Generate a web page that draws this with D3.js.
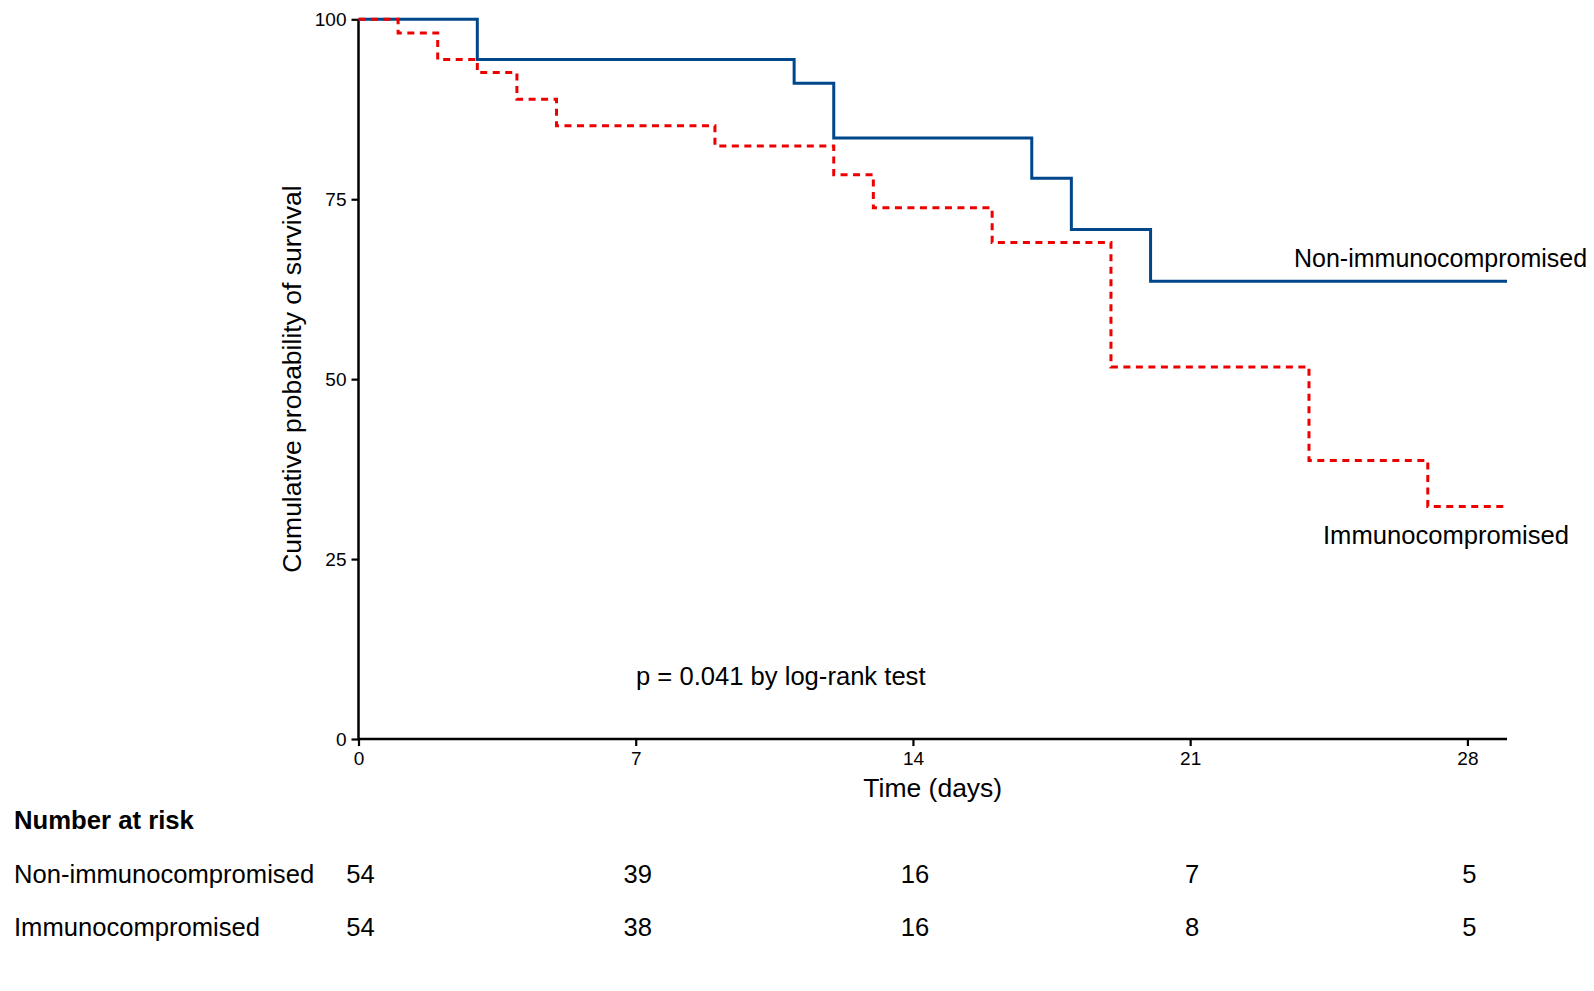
<!DOCTYPE html>
<html>
<head>
<meta charset="utf-8">
<script src="https://cdn.jsdelivr.net/npm/d3@7"></script>
<style>
  body { margin: 0; background: #fff; }
  text { font-family: "Liberation Sans", Arial, sans-serif; fill: #000; }
</style>
</head>
<body>
<div id="root"></div>
<script>
// Kaplan-Meier steps (time in days, survival in %)
const nonImmTimes = [0, 3, 11, 12, 17, 18, 20, 29];
const nonImmSurv = [100, 94.4, 91.1, 83.5, 77.9, 70.8, 63.6, 63.6];
const immTimes = [0, 1, 2, 3, 4, 5, 9, 12, 13, 16, 19, 24, 27, 29];
const immSurv = [100, 98.1, 94.4, 92.6, 88.9, 85.2, 82.4, 78.4, 73.8, 69.0, 51.7, 38.7, 32.3, 32.3];

const groups = ["Non-immunocompromised", "Immunocompromised"];
const xTicks = [0, 7, 14, 21, 28];
const yTicks = [0, 25, 50, 75, 100];
const riskNonImm = [54, 39, 16, 7, 5];
const riskImm = [54, 38, 16, 8, 5];

const width = 1594;
const height = 991;
const margin = { left: 358.5, top: 19.3, right: 87, bottom: 252 };

const svg = d3
  .select("#root")
  .append("svg")
  .attr("width", width)
  .attr("height", height)
  .attr("viewBox", [0, 0, width, height]);

const x = d3
  .scaleLinear()
  .domain([0, 29])
  .range([margin.left, width - margin.right]);

const y = d3
  .scaleLinear()
  .domain([0, 100])
  .range([height - margin.bottom, margin.top]);

// axes
const xAxis = svg
  .append("g")
  .attr("transform", `translate(0, ${y(0)})`)
  .call(d3.axisBottom(x).tickValues(xTicks).tickSizeOuter(0).tickSize(7).tickPadding(6));

const yAxis = svg
  .append("g")
  .attr("transform", `translate(${x(0)}, 0)`)
  .call(d3.axisLeft(y).tickValues(yTicks).tickSizeOuter(0).tickSize(7).tickPadding(5));

[xAxis, yAxis].forEach((ax) => {
  ax.select(".domain").remove();
  ax.selectAll(".tick line").attr("stroke", "#000").attr("stroke-width", 2.2);
  ax.selectAll(".tick text")
    .attr("font-size", 19)
    .attr("font-family", "Liberation Sans, Arial, sans-serif")
    .attr("fill", "#000");
});

// axis lines (plain, no end caps)
svg
  .append("line")
  .attr("x1", x(0))
  .attr("x2", x(29))
  .attr("y1", y(0))
  .attr("y2", y(0))
  .attr("stroke", "#000")
  .attr("stroke-width", 2.5);

svg
  .append("line")
  .attr("x1", x(0))
  .attr("x2", x(0))
  .attr("y1", y(0) + 1.25)
  .attr("y2", y(100))
  .attr("stroke", "#000")
  .attr("stroke-width", 2.5);

// survival curves
const line = d3
  .line()
  .x((d) => x(d[0]))
  .y((d) => y(d[1]))
  .curve(d3.curveStepAfter);

const series = [
  { name: groups[0], data: d3.zip(nonImmTimes, nonImmSurv), color: "#00468B", dash: null },
  { name: groups[1], data: d3.zip(immTimes, immSurv), color: "#ED0000", dash: "7,5.5" },
];

svg
  .append("g")
  .selectAll("path")
  .data(series)
  .join("path")
  .attr("d", (d) => line(d.data))
  .attr("fill", "none")
  .attr("stroke", (d) => d.color)
  .attr("stroke-width", 3)
  .attr("stroke-linejoin", "miter")
  .attr("stroke-dasharray", (d) => d.dash);

// curve labels
svg
  .append("text")
  .attr("x", 1294)
  .attr("y", 267)
  .attr("font-size", 25)
  .text(groups[0]);

svg
  .append("text")
  .attr("x", 1323)
  .attr("y", 544)
  .attr("font-size", 25.6)
  .text(groups[1]);

// p-value
svg
  .append("text")
  .attr("x", 636)
  .attr("y", 685)
  .attr("font-size", 25.6)
  .text("p = 0.041 by log-rank test");

// axis titles
svg
  .append("text")
  .attr("x", (x(0) + x(29)) / 2)
  .attr("y", 797)
  .attr("text-anchor", "middle")
  .attr("font-size", 26.5)
  .text("Time (days)");

svg
  .append("text")
  .attr("transform", `translate(301, ${(y(0) + y(100)) / 2}) rotate(-90)`)
  .attr("text-anchor", "middle")
  .attr("font-size", 26.5)
  .text("Cumulative probability of survival");

// number at risk table
svg
  .append("text")
  .attr("x", 14)
  .attr("y", 829)
  .attr("font-size", 25.7)
  .attr("font-weight", "bold")
  .text("Number at risk");

const rows = [
  { name: groups[0], values: riskNonImm, y: 883 },
  { name: groups[1], values: riskImm, y: 936 },
];

const row = svg.append("g").selectAll("g").data(rows).join("g");

row
  .append("text")
  .attr("x", 14)
  .attr("y", (d) => d.y)
  .attr("font-size", 25.6)
  .text((d) => d.name);

row
  .selectAll("text.risk")
  .data((d) => d.values.map((v, i) => ({ v, t: xTicks[i], y: d.y })))
  .join("text")
  .attr("class", "risk")
  .attr("x", (d) => x(d.t) + 2)
  .attr("y", (d) => d.y)
  .attr("text-anchor", "middle")
  .attr("font-size", 25.6)
  .text((d) => d.v);
</script>
</body>
</html>
